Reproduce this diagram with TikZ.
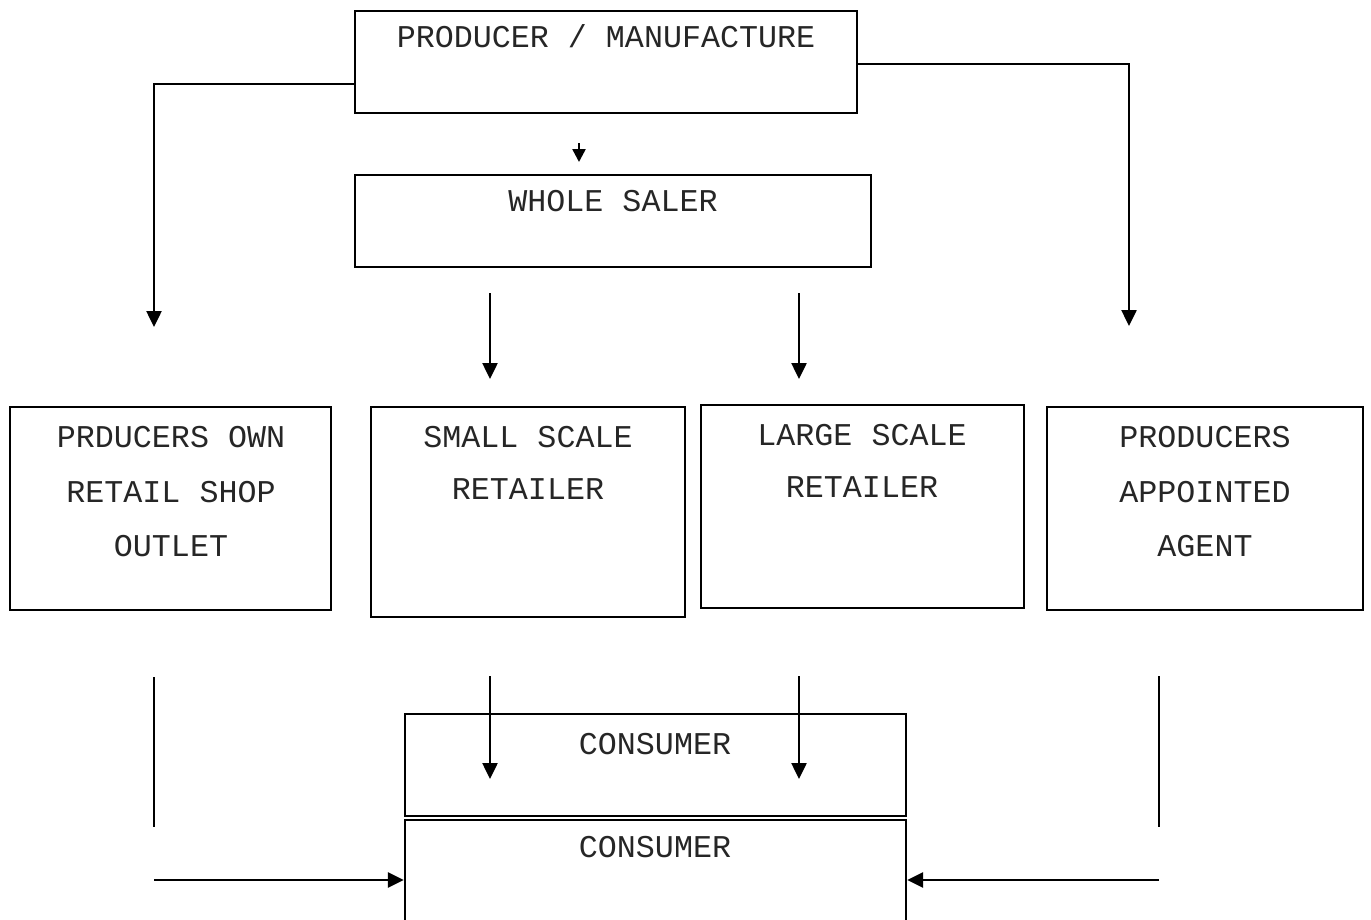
\documentclass[tikz,border=0pt]{standalone}
\usepackage{fontspec}
\setmonofont{Liberation Mono}
\usetikzlibrary{arrows.meta}
\begin{document}
\begin{tikzpicture}[x=1pt,y=-1pt,
  box/.style={draw,line width=2.3pt,inner sep=0pt},
  txt/.style={font=\ttfamily\fontsize{31.7}{38}\selectfont,anchor=mid,inner sep=0pt,yshift=-8pt,text=black!85},
  conn/.style={line width=2.5pt},
  arr/.style={line width=2.5pt,-{Triangle[length=16pt,width=15pt]}}]
\useasboundingbox (0,0) rectangle (1371,919);
% boxes
\node[box,minimum width=502,minimum height=102] (pm) at (606,62) {};
\node[box,minimum width=516,minimum height=92] (ws) at (613,221) {};
\node[box,minimum width=321,minimum height=203] (b1) at (170.5,508.5) {};
\node[box,minimum width=314,minimum height=210] (b2) at (528,512) {};
\node[box,minimum width=323,minimum height=203] (b3) at (862.5,506.5) {};
\node[box,minimum width=316,minimum height=203] (b4) at (1205,508.5) {};
\node[box,minimum width=501,minimum height=102] (c1) at (655.5,765) {};
\node[box,minimum width=501,minimum height=104] (c2) at (655.5,872) {};
% texts
\node[txt] (tpm) at (606,37) {PRODUCER / MANUFACTURE};
\node[txt] (tws) at (613,201) {WHOLE SALER};
\node[txt] (t1a) at (171,437) {PRDUCERS OWN};
\node[txt] (t1b) at (171,492) {RETAIL SHOP};
\node[txt] (t1c) at (171,546) {OUTLET};
\node[txt] (t2a) at (528,437) {SMALL SCALE};
\node[txt] (t2b) at (528,489) {RETAILER};
\node[txt] (t3a) at (862,435) {LARGE SCALE};
\node[txt] (t3b) at (862,487) {RETAILER};
\node[txt] (t4a) at (1205,437) {PRODUCERS};
\node[txt] (t4b) at (1205,492) {APPOINTED};
\node[txt] (t4c) at (1205,546) {AGENT};
\node[txt] (tc1) at (655,744) {CONSUMER};
\node[txt] (tc2) at (655,847) {CONSUMER};
% free ends
\coordinate (l1) at (154,327);
\coordinate (r1) at (1129,326);
\coordinate (s0) at (579,143);
\coordinate (s1) at (579,162);
\coordinate (a0) at (490,293);
\coordinate (a1) at (490,379);
\coordinate (b0) at (799,293);
\coordinate (bb1) at (799,379);
\coordinate (v0) at (154,677);
\coordinate (v1) at (154,827);
\coordinate (w0) at (1159,676);
\coordinate (w1) at (1159,827);
\coordinate (d0) at (490,676);
\coordinate (d1) at (490,779);
\coordinate (e0) at (799,676);
\coordinate (e1) at (799,779);
\coordinate (h0) at (154,880);
\coordinate (k0) at (1159,880);
% connectors
\draw[arr] (pm.west |- 0,84) -| (l1);
\draw[arr] (pm.east |- 0,64) -| (r1);
\draw[line width=2.5pt,-{Triangle[length=13pt,width=13pt]}] (s0) -- (s1);
\draw[arr] (a0) -- (a1);
\draw[arr] (b0) -- (bb1);
\draw[conn] (v0) -- (v1);
\draw[conn] (w0) -- (w1);
\draw[arr] (d0) -- (d1);
\draw[arr] (e0) -- (e1);
\draw[arr] (h0) -- (c2.west |- h0);
\draw[arr] (k0) -- (c2.east |- k0);
\end{tikzpicture}
\end{document}
